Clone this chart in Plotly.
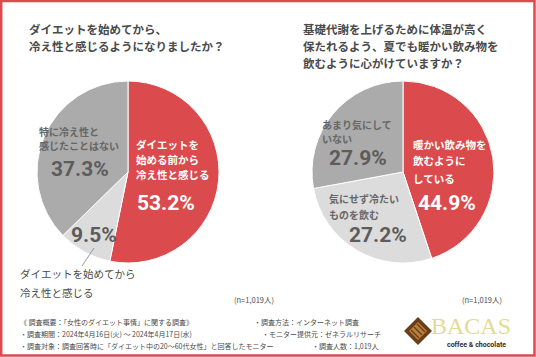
import plotly.graph_objects as go

W, H = 536, 357

# ---- data ----
q1_labels = ["ダイエットを始める前から冷え性と感じる", "ダイエットを始めてから冷え性と感じる", "特に冷え性と感じたことはない"]
q1_values = [53.2, 9.5, 37.3]
q2_labels = ["暖かい飲み物を飲むようにしている", "気にせず冷たいものを飲む", "あまり気にしていない"]
q2_values = [44.9, 27.2, 27.9]
slice_colors = ["#DB4B4E", "#DCDCDC", "#ABABAB"]
q2_colors = ["#DB4B4E", "#DCDCDC", "#ABABAB"]

title1 = ["ダイエットを始めてから、", "冷え性と感じるようになりましたか？"]
title2 = ["基礎代謝を上げるために体温が高く", "保たれるよう、夏でも暖かい飲み物を", "飲むように心がけていますか？"]
n_label = "(n=1,019人)"
footer_left = ["《 調査概要：「女性のダイエット事情」に関する調査》",
               "・調査期間：2024年4月16日(火) ～ 2024年4月17日(水)",
               "・調査対象：調査回答時に「ダイエット中の20～60代女性」と回答したモニター"]
footer_right = ["・調査方法：インターネット調査", "・モニター提供元：ゼネラルリサーチ", "・調査人数：1,019人"]

JP = "Noto Sans CJK JP"
NUM = "Roboto, sans-serif"
RED = "#DB4B4E"
DARK = "#4A4A4A"
GRAYTXT = "#666666"
PCTGRAY = "#5C5C5C"


def px(x):
    return x / W


def py(y):
    return 1 - y / H


def pie_domain(cx, cy, r):
    return dict(x=[px(cx - r), px(cx + r)], y=[py(cy + r), py(cy - r)])


fig = go.Figure()
fig.add_trace(go.Pie(values=q1_values, labels=q1_labels, sort=False, direction="clockwise",
                     rotation=0, textinfo="none", hoverinfo="label+percent",
                     marker=dict(colors=slice_colors, line=dict(color="white", width=1)),
                     domain=pie_domain(128, 172, 91), showlegend=False))
fig.add_trace(go.Pie(values=q2_values, labels=q2_labels, sort=False, direction="clockwise",
                     rotation=0, textinfo="none", hoverinfo="label+percent",
                     marker=dict(colors=q2_colors, line=dict(color="white", width=1)),
                     domain=pie_domain(403, 172, 91), showlegend=False))

ann = []


def txt(x, y, s, size, color, anchor="left", weight="bold", family=JP):
    ann.append(dict(x=px(x), y=py(y), xref="paper", yref="paper", text=s, showarrow=False,
                    xanchor=anchor, yanchor="middle",
                    font=dict(family=family, size=size, color=color, weight=weight)))


# titles
for i, s in enumerate(title1):
    txt(27, 29 + 17 * i, s, 11.5, DARK)
for i, s in enumerate(title2):
    txt(301, 29 + 17 * i, s, 11.5, DARK)

# left pie labels
for i, s in enumerate(["ダイエットを", "始める前から", "冷え性と感じる"]):
    txt(134, 144 + 15 * i, s, 10.5, "white")
txt(166, 203, f"{q1_values[0]}%", 21, "white", anchor="center", family=NUM)
for i, s in enumerate(["特に冷え性と", "感じたことはない"]):
    txt(37, 131 + 14 * i, s, 10, GRAYTXT)
txt(80, 169, f"{q1_values[2]}%", 21, PCTGRAY, anchor="center", family=NUM)
txt(94, 235, f"{q1_values[1]}%", 21, PCTGRAY, anchor="center", family=NUM)
for i, s in enumerate(["ダイエットを始めてから", "冷え性と感じる"]):
    txt(18, 273 + 19 * i, s, 10.5, DARK, weight="normal")

# right pie labels
for i, s in enumerate(["暖かい飲み物を", "飲むように", "している"]):
    txt(411, 144 + 17 * i, s, 10.5, "white")
txt(447, 203, f"{q2_values[0]}%", 21, "white", anchor="center", family=NUM)
for i, s in enumerate(["あまり気にして", "いない"]):
    txt(320, 124 + 15 * i, s, 10, GRAYTXT)
txt(358, 158, f"{q2_values[2]}%", 21, PCTGRAY, anchor="center", family=NUM)
for i, s in enumerate(["気にせず冷たい", "ものを飲む"]):
    txt(327, 198 + 16 * i, s, 10, GRAYTXT)
txt(378, 235, f"{q2_values[1]}%", 21, PCTGRAY, anchor="center", family=NUM)

# n labels
txt(254, 299, n_label, 7.5, DARK, anchor="center", weight="normal")
txt(482, 299, n_label, 7.5, DARK, anchor="center", weight="normal")

# footer
fx = [252, 260, 310]
for i in range(3):
    txt(18, 322 + 12 * i, footer_left[i], 7, DARK, weight="normal")
    txt(fx[i], 322 + 12 * i, footer_right[i], 7, DARK, weight="normal")

# logo text
txt(471, 326, "BACAS", 24, "#E3DA98", anchor="center", weight="normal", family="Liberation Serif")
txt(476, 345, "coffee &amp; chocolate", 7, "#3B2A1C", anchor="center", weight="bold",
    family="Roboto")

shapes = []
# leader line
shapes.append(dict(type="line", xref="paper", yref="paper", x0=px(94), y0=py(248), x1=px(82), y1=py(266),
                   line=dict(color="#9A9A9A", width=1)))


def diamond(cx, cy, r):
    return (f"M {px(cx)} {py(cy - r)} L {px(cx + r)} {py(cy)} L {px(cx)} {py(cy + r)} "
            f"L {px(cx - r)} {py(cy)} Z")


shapes.append(dict(type="path", xref="paper", yref="paper", path=diamond(418, 331, 14),
                   fillcolor="#6A3C17", line=dict(width=0)))
shapes.append(dict(type="path", xref="paper", yref="paper", path=diamond(418, 331, 9),
                   fillcolor="#B77E3C", line=dict(width=0)))
for k in [-3, 0, 3]:
    shapes.append(dict(type="line", xref="paper", yref="paper",
                       x0=px(418 + k - 4), y0=py(331 - k - 4), x1=px(418 + k + 4), y1=py(331 - k + 4),
                       line=dict(color="#6A3C17", width=1.2)))
# red frame
shapes.append(dict(type="rect", xref="paper", yref="paper", x0=px(1.2), y0=py(355.5), x1=px(534.5), y1=py(1),
                   line=dict(color=RED, width=2.5), fillcolor="rgba(0,0,0,0)"))

fig.update_layout(width=W, height=H, margin=dict(l=0, r=0, t=0, b=0, autoexpand=False),
                  paper_bgcolor="white", plot_bgcolor="white",
                  annotations=ann, shapes=shapes, showlegend=False)
fig.write_html("out.html", config={"displayModeBar": False},
               post_script="document.body.style.margin='0';document.body.style.overflow='hidden';")
